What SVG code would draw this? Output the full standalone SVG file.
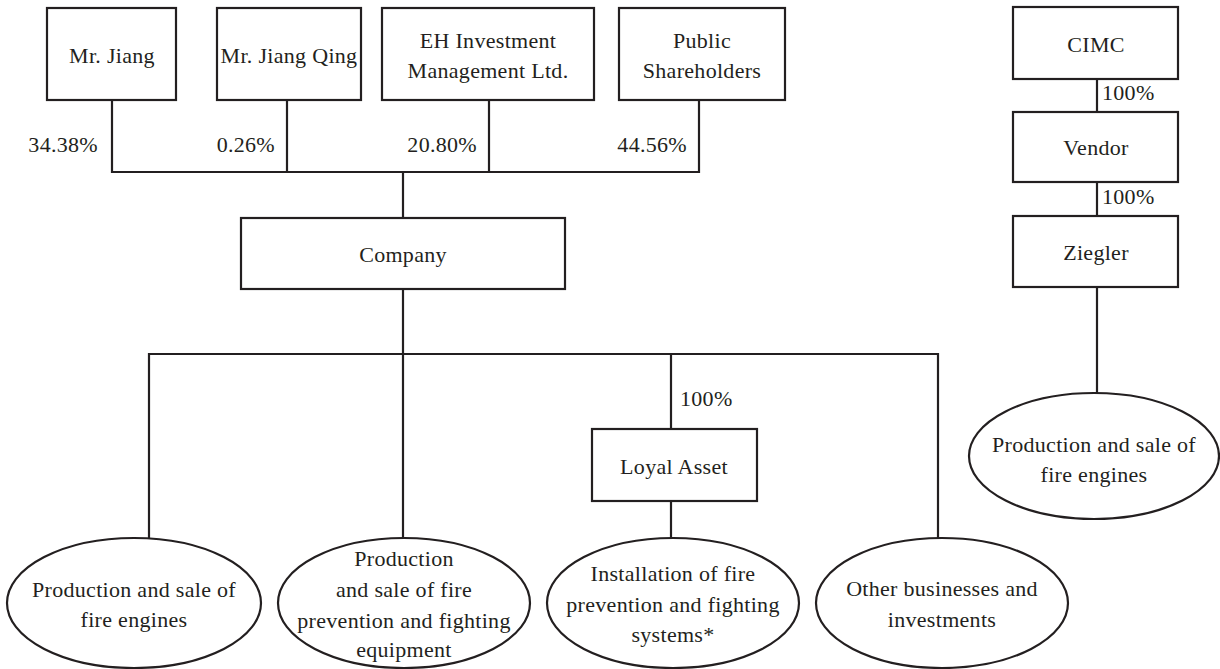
<svg xmlns="http://www.w3.org/2000/svg" width="1220" height="669" viewBox="0 0 1220 669">
<style>
.b{fill:#fff;stroke:#231f20;stroke-width:2.2}
.c{fill:none;stroke:#231f20;stroke-width:2.2}
text{font-family:'Liberation Serif','DejaVu Serif','Times New Roman',Times,serif;font-size:22px;fill:#231f20;letter-spacing:0.3px}
.m{text-anchor:middle}
.e{text-anchor:end}
</style>
<rect width="1220" height="669" fill="#fff"/>
<g id="connectors">
<path class="c" d="M112 100V172H699V100M287 100V172M489 100V172M403 172V218"/>
<path class="c" d="M403 289V538M149 538V354H938V538M671 354V429M671 501V538"/>
<path class="c" d="M1097 79V112M1097 182V216M1097 287V393"/>
<text class="e" x="98" y="152">34.38%</text>
<text class="e" x="275" y="152">0.26%</text>
<text class="e" x="477" y="152">20.80%</text>
<text class="e" x="687" y="152">44.56%</text>
<text x="680" y="406">100%</text>
<text x="1102" y="100">100%</text>
<text x="1102" y="204">100%</text>
</g>
<g id="mr-jiang"><rect class="b" x="47" y="8" width="129" height="92"/><text class="m" x="112" y="63">Mr. Jiang</text></g>
<g id="mr-jiang-qing"><rect class="b" x="217" y="8" width="144" height="92"/><text class="m" x="289" y="63">Mr. Jiang Qing</text></g>
<g id="eh"><rect class="b" x="382" y="8" width="212" height="92"/><text class="m" x="488" y="48">EH Investment</text><text class="m" x="488" y="78">Management Ltd.</text></g>
<g id="public"><rect class="b" x="619" y="8" width="166" height="92"/><text class="m" x="702" y="48">Public</text><text class="m" x="702" y="78">Shareholders</text></g>
<g id="company"><rect class="b" x="241" y="218" width="324" height="71"/><text class="m" x="403" y="262">Company</text></g>
<g id="loyal-asset"><rect class="b" x="592" y="429" width="165" height="72"/><text class="m" x="674" y="474">Loyal Asset</text></g>
<g id="cimc"><rect class="b" x="1013" y="7" width="165" height="72"/><text class="m" x="1096" y="52">CIMC</text></g>
<g id="vendor"><rect class="b" x="1013" y="112" width="165" height="70"/><text class="m" x="1096" y="155">Vendor</text></g>
<g id="ziegler"><rect class="b" x="1013" y="216" width="165" height="71"/><text class="m" x="1096" y="260">Ziegler</text></g>
<g id="biz1"><ellipse class="b" cx="134" cy="603" rx="127" ry="65"/><text class="m" x="134" y="597">Production and sale of</text><text class="m" x="134" y="627">fire engines</text></g>
<g id="biz2"><ellipse class="b" cx="404" cy="603" rx="126" ry="65"/><text class="m" x="404" y="566">Production</text><text class="m" x="404" y="597">and sale of fire</text><text class="m" x="404" y="628">prevention and fighting</text><text class="m" x="404" y="657">equipment</text></g>
<g id="biz3"><ellipse class="b" cx="673" cy="603" rx="126" ry="65"/><text class="m" x="673" y="581">Installation of fire</text><text class="m" x="673" y="612">prevention and fighting</text><text class="m" x="673" y="642">systems*</text></g>
<g id="biz4"><ellipse class="b" cx="942" cy="603" rx="126" ry="65"/><text class="m" x="942" y="596">Other businesses and</text><text class="m" x="942" y="627">investments</text></g>
<g id="ziegler-biz"><ellipse class="b" cx="1094" cy="456" rx="125" ry="63"/><text class="m" x="1094" y="452">Production and sale of</text><text class="m" x="1094" y="482">fire engines</text></g>
</svg>
